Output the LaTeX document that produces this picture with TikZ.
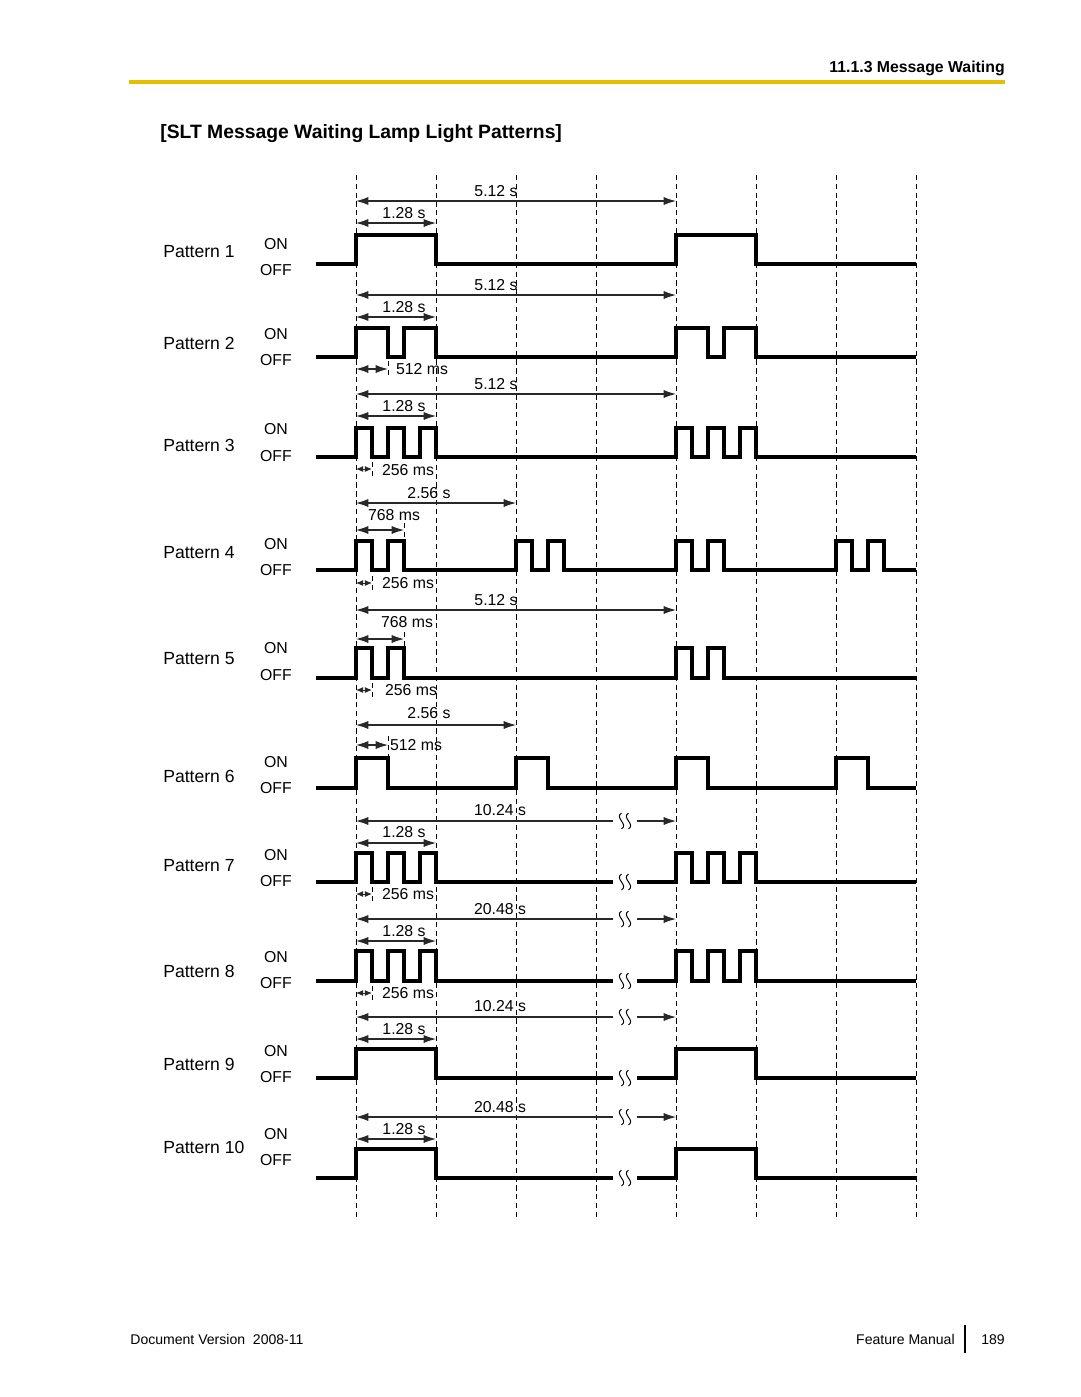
\documentclass[tikz,border=0pt]{standalone}
\usepackage{fontspec}
\setmainfont{Liberation Sans}
\usepackage{xcolor}
\usetikzlibrary{arrows.meta}

\definecolor{rulegold}{RGB}{230,190,0}
\definecolor{dimgray}{RGB}{40,40,40}

\tikzset{
  sig/.style={line width=2pt},
  gridline/.style={densely dashed,line width=0.4pt},
  dim/.style={line width=0.6pt,dimgray,{Latex[length=7pt,width=4.6pt]}-{Latex[length=7pt,width=4.6pt]}},
  dimleft/.style={line width=0.6pt,dimgray,{Latex[length=7pt,width=4.6pt]}-{}},
  dimright/.style={line width=0.6pt,dimgray,{}-{Latex[length=7pt,width=4.6pt]}},
  dimsmall/.style={line width=0.55pt,dimgray,{Latex[length=4pt,width=3.4pt]}-{Latex[length=4pt,width=3.4pt]}},
  lbl/.style={inner sep=0pt,font=\fontsize{9}{11}\selectfont},
  pat/.style={inner sep=0pt,anchor=west,font=\fontsize{10}{12}\selectfont},
  foot/.style={inner sep=0pt,font=\fontsize{8}{10}\selectfont},
  wbreak/.pic={
    \draw[line width=0.55pt] (-3.5,-8) .. controls (-11,-3) and (4,3) .. (-3.5,8);
    \draw[line width=0.55pt] (3.5,-8) .. controls (-4,-3) and (11,3) .. (3.5,8);
  }
}

\begin{document}
\begin{tikzpicture}[x=0.02cm,y=-0.02cm]
  \useasboundingbox (0,0) rectangle (1080,1397);

  % header
  \node[inner sep=0pt,anchor=east,font=\fontsize{9}{11}\selectfont\bfseries] (head) at (1005,68) {11.1.3 Message Waiting};
  \draw[rulegold,line width=2.8pt] (129,82) -- (1005,82);
  \node[inner sep=0pt,anchor=west,font=\fontsize{11}{13}\selectfont\bfseries] (title) at (160,134) {[SLT Message Waiting Lamp Light Patterns]};

  % time grid
  \foreach \x in {356,436,...,916}
    \draw[gridline] (\x,175) -- (\x,1220);

  % row labels
  \foreach \n/\y/\yon/\yoff in {1/252/244/270, 2/343/334/360, 3/445/429/456, 4/553/544/570,
      5/659/648/675, 6/776/762/788, 7/866/855/881, 8/971/957/983, 9/1064/1051/1077, 10/1147/1134/1160} {
    \node[pat] (pat\n) at (163,\y) {Pattern \n};
    \node[lbl] (on\n) at (276,\yon) {ON};
    \node[lbl] (off\n) at (276,\yoff) {OFF};
  }

  % Pattern 1
  \draw[dim] (356,201) -- (676,201);
  \node[lbl] (t1a) at (496,191) {5.12 s};
  \draw[dim] (356,223) -- (436,223);
  \node[lbl] (t1b) at (404,213) {1.28 s};
  \draw[sig] (316,264) -| (356,235) -| (436,264) -| (676,235) -| (756,264) -- (916,264);

  % Pattern 2
  \draw[dim] (356,295) -- (676,295);
  \node[lbl] (t2a) at (496,285) {5.12 s};
  \draw[dim] (356,317) -- (436,317);
  \node[lbl] (t2b) at (404,307) {1.28 s};
  \draw[sig] (316,357) -| (356,328) -| (388,357) -| (404,328) -| (436,357)
    -| (676,328) -| (708,357) -| (724,328) -| (756,357) -- (916,357);
  \draw[dim] (356,369) -- (388,369);
  \draw[gridline] (388,361) -- (388,377);
  \node[lbl] (t2c) at (422,369) {512 ms};

  % Pattern 3
  \draw[dim] (356,394) -- (676,394);
  \node[lbl] (t3a) at (496,384) {5.12 s};
  \draw[dim] (356,416) -- (436,416);
  \node[lbl] (t3b) at (404,406) {1.28 s};
  \draw[sig] (316,457) -| (356,428) -| (372,457) -| (388,428) -| (404,457) -| (420,428) -| (436,457)
    -| (676,428) -| (692,457) -| (708,428) -| (724,457) -| (740,428) -| (756,457) -- (916,457);
  \draw[dimsmall] (356,469) -- (372,469);
  \draw[gridline] (372,462) -- (372,477);
  \node[lbl] (t3c) at (408,470) {256 ms};

  % Pattern 4
  \draw[dim] (356,503) -- (516,503);
  \node[lbl] (t4a) at (429,493) {2.56 s};
  \draw[dim] (356,530) -- (404,530);
  \draw[gridline] (404,523) -- (404,541);
  \node[lbl] (t4b) at (394,515) {768 ms};
  \draw[sig] (316,570) -| (356,541) -| (372,570) -| (388,541) -| (404,570)
    -| (516,541) -| (532,570) -| (548,541) -| (564,570)
    -| (676,541) -| (692,570) -| (708,541) -| (724,570)
    -| (836,541) -| (852,570) -| (868,541) -| (884,570) -- (916,570);
  \draw[dimsmall] (356,583) -- (372,583);
  \draw[gridline] (372,576) -- (372,591);
  \node[lbl] (t4c) at (408,583) {256 ms};

  % Pattern 5
  \draw[dim] (356,610) -- (676,610);
  \node[lbl] (t5a) at (496,600) {5.12 s};
  \draw[dim] (356,639) -- (404,639);
  \draw[gridline] (404,632) -- (404,648);
  \node[lbl] (t5b) at (407,622) {768 ms};
  \draw[sig] (316,678) -| (356,648) -| (372,678) -| (388,648) -| (404,678)
    -| (676,648) -| (692,678) -| (708,648) -| (724,678) -- (916,678);
  \draw[dimsmall] (356,690) -- (372,690);
  \draw[gridline] (372,683) -- (372,698);
  \node[lbl] (t5c) at (411,690) {256 ms};

  % Pattern 6
  \draw[dim] (356,725) -- (516,725);
  \node[lbl] (t6a) at (429,713) {2.56 s};
  \draw[dim] (356,745) -- (388,745);
  \draw[gridline] (388,736) -- (388,758);
  \node[lbl] (t6b) at (416,745) {512 ms};
  \draw[sig] (316,788) -| (356,758) -| (388,788) -| (516,758) -| (548,788)
    -| (676,758) -| (708,788) -| (836,758) -| (868,788) -- (916,788);

  % Pattern 7
  \draw[dimleft] (356,821) -- (613,821);
  \draw[dimright] (637,821) -- (676,821);
  \pic at (625,821) {wbreak};
  \node[lbl] (t7a) at (500,810) {10.24 s};
  \draw[dim] (356,843) -- (436,843);
  \node[lbl] (t7b) at (404,832) {1.28 s};
  \draw[sig] (316,882) -| (356,853) -| (372,882) -| (388,853) -| (404,882) -| (420,853) -| (436,882) -- (613,882);
  \pic at (625,882) {wbreak};
  \draw[sig] (637,882) -| (676,853) -| (692,882) -| (708,853) -| (724,882) -| (740,853) -| (756,882) -- (916,882);
  \draw[dimsmall] (356,894) -- (372,894);
  \draw[gridline] (372,887) -- (372,901);
  \node[lbl] (t7c) at (408,894) {256 ms};

  % Pattern 8
  \draw[dimleft] (356,919) -- (613,919);
  \draw[dimright] (637,919) -- (676,919);
  \pic at (625,919) {wbreak};
  \node[lbl] (t8a) at (500,909) {20.48 s};
  \draw[dim] (356,941) -- (436,941);
  \node[lbl] (t8b) at (404,931) {1.28 s};
  \draw[sig] (316,981) -| (356,951) -| (372,981) -| (388,951) -| (404,981) -| (420,951) -| (436,981) -- (613,981);
  \pic at (625,981) {wbreak};
  \draw[sig] (637,981) -| (676,951) -| (692,981) -| (708,951) -| (724,981) -| (740,951) -| (756,981) -- (916,981);
  \draw[dimsmall] (356,993) -- (372,993);
  \draw[gridline] (372,986) -- (372,1000);
  \node[lbl] (t8c) at (408,993) {256 ms};

  % Pattern 9
  \draw[dimleft] (356,1017) -- (613,1017);
  \draw[dimright] (637,1017) -- (676,1017);
  \pic at (625,1017) {wbreak};
  \node[lbl] (t9a) at (500,1006) {10.24 s};
  \draw[dim] (356,1039) -- (436,1039);
  \node[lbl] (t9b) at (404,1029) {1.28 s};
  \draw[sig] (316,1078) -| (356,1049) -| (436,1078) -- (613,1078);
  \pic at (625,1078) {wbreak};
  \draw[sig] (637,1078) -| (676,1049) -| (756,1078) -- (916,1078);

  % Pattern 10
  \draw[dimleft] (356,1117) -- (613,1117);
  \draw[dimright] (637,1117) -- (676,1117);
  \pic at (625,1117) {wbreak};
  \node[lbl] (t10a) at (500,1107) {20.48 s};
  \draw[dim] (356,1139) -- (436,1139);
  \node[lbl] (t10b) at (404,1129) {1.28 s};
  \draw[sig] (316,1178) -| (356,1149) -| (436,1178) -- (613,1178);
  \pic at (625,1178) {wbreak};
  \draw[sig] (637,1178) -| (676,1149) -| (756,1178) -- (916,1178);

  % footer
  \node[foot,anchor=base west] (docver) at (130,1344) {Document Version\ \ 2008-11};
  \node[foot,anchor=base east] (manual) at (955,1344) {Feature Manual};
  \draw[line width=1.1pt] (965,1325) -- (965,1353);
  \node[foot,anchor=base west] (page) at (981,1344) {189};
\end{tikzpicture}
\end{document}
